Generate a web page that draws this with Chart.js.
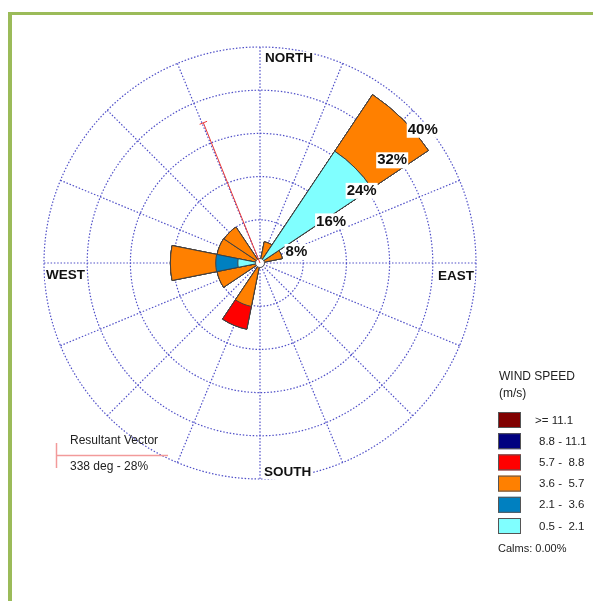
<!DOCTYPE html>
<html><head><meta charset="utf-8">
<script src="https://cdn.jsdelivr.net/npm/chart.js@4.4.1/dist/chart.umd.min.js"></script>
<style>
html,body{margin:0;padding:0;background:#fff;}
#wrap{position:relative;width:593px;height:601px;overflow:hidden;background:#fff;}
#frame{position:absolute;left:8px;top:12px;width:700px;height:700px;border-left:4px solid #9bbb59;border-top:3px solid #9bbb59;}
#box{position:absolute;left:0;top:0;width:593px;height:601px;}
</style></head><body>
<div id="wrap"><div id="frame"></div><div id="box"><canvas id="c"></canvas></div></div>
<script>
// ---- data ----
const directions = ['N','NNE','NE','ENE','E','ESE','SE','SSE','S','SSW','SW','WSW','W','WNW','NW','NNW'];
const speedClasses = ['0.5 -  2.1','2.1 -  3.6','3.6 -  5.7','5.7 -  8.8','8.8 - 11.1','>= 11.1'];
//                  N   NNE  NE    ENE  E  ESE SE SSE S  SSW  SW WSW  W    WNW  NW   NNW
const freq_05_21 = [0,  0,   24.9, 0,   0, 0,  0, 0,  0, 0,   0, 0,   4.1, 0,   0,   0];
const freq_21_36 = [0,  0,   0,    0,   0, 0,  0, 0,  0, 0,   0, 0,   4.1, 0,   0,   0];
const freq_36_57 = [0,  4.0, 12.6, 4.2, 0, 0,  0, 0,  0, 8.2, 0, 8.1, 8.4, 8.1, 8.0, 0];
const freq_57_88 = [0,  0,   0,    0,   0, 0,  0, 0,  0, 4.3, 0, 0,   0,   0,   0,   0];
const freq_88_111= [0,  0,   0,    0,   0, 0,  0, 0,  0, 0,   0, 0,   0,   0,   0,   0];
const freq_111   = [0,  0,   0,    0,   0, 0,  0, 0,  0, 0,   0, 0,   0,   0,   0,   0];
const ringTicks = [8, 16, 24, 32, 40];
const compassLabels = ['NORTH', 'EAST', 'SOUTH', 'WEST'];
const resultantDeg = 338;
const resultantPct = 28;
const calmsText = 'Calms: 0.00%';
const legendTitle = ['WIND SPEED', '(m/s)'];

// ---- styles ----
const classColors = ['#80ffff', '#0080c0', '#ff8000', '#ff0000', '#000080', '#800000'];
const FONT = '"Liberation Sans", Arial, sans-serif';
const GRID = 'rgb(80,80,200)';

const classSeries = [freq_05_21, freq_21_36, freq_36_57, freq_57_88, freq_88_111, freq_111];
let run = directions.map(() => 0);
const datasets = classSeries.map((s, k) => {
  run = run.map((v, i) => v + s[i]);
  return { label: speedClasses[k], data: run.slice(), backgroundColor: classColors[k],
           borderColor: '#404040', borderWidth: 1 };
});

function rad(deg) { return (deg - 90) * Math.PI / 180; }

const roseDecor = {
  id: 'roseDecor',
  beforeDatasetsDraw(chart) {
    const ctx = chart.ctx, r = chart.scales.r, cx = r.xCenter, cy = r.yCenter;
    const R = r.getDistanceFromCenterForValue(ringTicks[ringTicks.length - 1]);
    ctx.save();
    ctx.strokeStyle = GRID; ctx.lineWidth = 1.2; ctx.setLineDash([1.5, 1.8]);
    ringTicks.forEach(t => {
      ctx.beginPath(); ctx.arc(cx, cy, r.getDistanceFromCenterForValue(t), 0, Math.PI * 2); ctx.stroke();
    });
    directions.forEach((d, i) => {
      const a = rad(i * 360 / directions.length);
      ctx.beginPath(); ctx.moveTo(cx, cy); ctx.lineTo(cx + R * Math.cos(a), cy + R * Math.sin(a)); ctx.stroke();
    });
    ctx.restore();
  },
  afterDatasetsDraw(chart) {
    const ctx = chart.ctx, r = chart.scales.r, cx = r.xCenter, cy = r.yCenter;
    const R = r.getDistanceFromCenterForValue(ringTicks[ringTicks.length - 1]);
    ctx.save();
    // calm circle
    ctx.beginPath(); ctx.arc(cx, cy, 4.5, 0, Math.PI * 2);
    ctx.fillStyle = '#fff'; ctx.fill(); ctx.strokeStyle = '#555'; ctx.lineWidth = 1; ctx.stroke();
    // resultant vector
    const a = rad(resultantDeg), L = r.getDistanceFromCenterForValue(resultantPct);
    const tx = cx + L * Math.cos(a), ty = cy + L * Math.sin(a);
    ctx.strokeStyle = '#e83838'; ctx.lineWidth = 1;
    ctx.beginPath(); ctx.moveTo(cx, cy); ctx.lineTo(tx, ty); ctx.stroke();
    const px = -Math.sin(a), py = Math.cos(a);
    ctx.beginPath(); ctx.moveTo(tx - 4 * px, ty - 4 * py); ctx.lineTo(tx + 4 * px, ty + 4 * py); ctx.stroke();
    // percent labels along NE
    ctx.font = 'bold 15px ' + FONT; ctx.textBaseline = 'middle'; ctx.textAlign = 'left';
    ringTicks.forEach(t => {
      const d = r.getDistanceFromCenterForValue(t);
      const x = cx + d * Math.SQRT1_2 - 5, y = cy - d * Math.SQRT1_2 + 19.5;
      const s = t + '%', w = ctx.measureText(s).width;
      ctx.fillStyle = '#fff'; ctx.fillRect(x - 1, y - 8, w + 2, 16);
      ctx.fillStyle = '#111'; ctx.fillText(s, x, y);
    });
    // compass labels
    ctx.font = 'bold 13.5px ' + FONT;
    const pos = [[cx + 5, cy - R + 11.5], [cx + R - 38, cy + 13], [cx + 4, cy + R - 7], [cx - R + 2, cy + 12]];
    compassLabels.forEach((s, i) => {
      const w = ctx.measureText(s).width, [x, y] = pos[i];
      ctx.fillStyle = '#fff'; ctx.fillRect(x - 1, y - 7, w + 2, 14);
      ctx.fillStyle = '#111'; ctx.fillText(s, x, y);
    });
    // legend
    ctx.fillStyle = '#222'; ctx.font = '12px ' + FONT;
    ctx.fillText(legendTitle[0], 499, 377);
    ctx.fillText(legendTitle[1], 499, 394);
    ctx.font = '11.5px ' + FONT;
    for (let j = 0; j < speedClasses.length; j++) {
      const k = speedClasses.length - 1 - j;
      const top = 412 + j * 21.2;
      ctx.fillStyle = classColors[k]; ctx.fillRect(498, top, 23, 16);
      ctx.strokeStyle = '#555'; ctx.lineWidth = 1; ctx.strokeRect(498.5, top + 0.5, 22, 15);
      ctx.fillStyle = '#222'; ctx.fillText(speedClasses[k], k === 5 ? 535 : 539, top + 8.5);
    }
    ctx.font = '11px ' + FONT;
    ctx.fillText(calmsText, 498, 549);
    // resultant vector legend
    ctx.strokeStyle = '#f29a9a'; ctx.lineWidth = 1.5;
    ctx.beginPath(); ctx.moveTo(56, 455.5); ctx.lineTo(168, 455.5); ctx.stroke();
    ctx.beginPath(); ctx.moveTo(56.5, 443); ctx.lineTo(56.5, 468); ctx.stroke();
    ctx.fillStyle = '#222'; ctx.font = '12px ' + FONT;
    ctx.fillText('Resultant Vector', 70, 441);
    ctx.fillText(resultantDeg + ' deg - ' + resultantPct + '%', 70, 467);
    ctx.restore();
  }
};

new Chart(document.getElementById('c'), {
  type: 'polarArea',
  data: { labels: directions, datasets },
  options: {
    responsive: true, maintainAspectRatio: false, animation: false,
    layout: { padding: { left: 44, right: 117, top: 47, bottom: 122 } },
    plugins: { legend: { display: false }, tooltip: { enabled: false } },
    scales: { r: {
      min: 0, max: 40, startAngle: -11.25,
      ticks: { display: false, stepSize: 8 },
      grid: { display: false }, angleLines: { display: false }, pointLabels: { display: false }
    } }
  },
  plugins: [roseDecor]
});
</script>
</body></html>
